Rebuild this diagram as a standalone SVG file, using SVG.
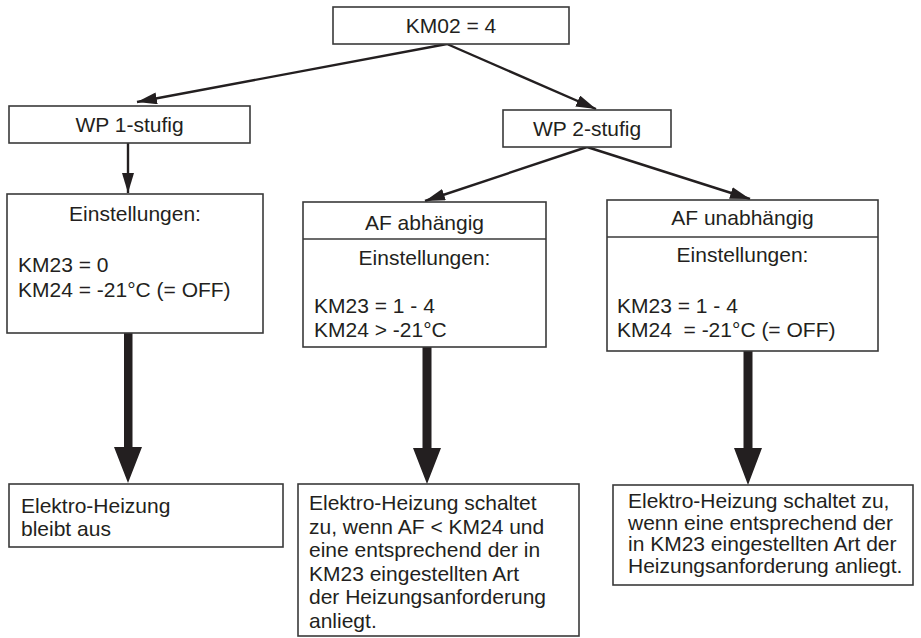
<svg xmlns="http://www.w3.org/2000/svg" width="921" height="638" viewBox="0 0 921 638">
<defs>
<marker id="ah" viewBox="0 0 20 12" refX="20" refY="6" markerWidth="20" markerHeight="12" markerUnits="userSpaceOnUse" orient="auto">
<path d="M0,0 L20,6 L0,12 Z" fill="#231f20"/>
</marker>
</defs>
<style>
.box{fill:#fff;stroke:#3a3a3a;stroke-width:1.6}
.t{font-family:"Liberation Sans",Arial,sans-serif;font-size:21px;fill:#231f20}
.c{text-anchor:middle}
.thin{stroke:#231f20;stroke-width:2.4;fill:none}
.thick{fill:#231f20}
</style>
<g id="connectors">
<line class="thin" x1="447" y1="44" x2="137" y2="102" marker-end="url(#ah)"/>
<line class="thin" x1="447" y1="44" x2="596" y2="109" marker-end="url(#ah)"/>
<line class="thin" x1="128" y1="143" x2="128" y2="193" marker-end="url(#ah)"/>
<line class="thin" x1="587" y1="147" x2="425" y2="201" marker-end="url(#ah)"/>
<line class="thin" x1="587" y1="147" x2="750" y2="199" marker-end="url(#ah)"/>
<path class="thick" d="M124,333 H132.5 V447 H142 L128,483 L114,447 H124 Z"/>
<path class="thick" d="M422.5,347 H431.5 V448 H441 L427,484 L413,448 H422.5 Z"/>
<path class="thick" d="M743.5,351 H752.5 V448 H762 L748,485 L734,448 H743.5 Z"/>
</g>
<g id="n-km02">
<rect class="box" x="333" y="7" width="236" height="37"/>
<text class="t c" x="451" y="33">KM02 = 4</text>
</g>
<g id="n-wp1">
<rect class="box" x="9" y="106" width="241" height="37"/>
<text class="t c" x="129.5" y="132">WP 1-stufig</text>
</g>
<g id="n-wp2">
<rect class="box" x="503" y="110" width="168" height="37"/>
<text class="t c" x="587" y="136">WP 2-stufig</text>
</g>
<g id="n-set1">
<rect class="box" x="7" y="194" width="256" height="139"/>
<text class="t c" x="135" y="221">Einstellungen:</text>
<text class="t" x="18" y="272">KM23 = 0</text>
<text class="t" x="18" y="297">KM24 = -21°C (= OFF)</text>
</g>
<g id="n-afab">
<rect class="box" x="303" y="202" width="243" height="145"/>
<line class="box" x1="303" y1="239" x2="546" y2="239"/>
<text class="t c" x="424.5" y="230">AF abhängig</text>
<text class="t c" x="424.5" y="265">Einstellungen:</text>
<text class="t" x="314" y="313">KM23 = 1 - 4</text>
<text class="t" x="314" y="337">KM24 &gt; -21°C</text>
</g>
<g id="n-afun">
<rect class="box" x="607" y="200" width="271" height="151"/>
<line class="box" x1="607" y1="237" x2="878" y2="237"/>
<text class="t c" x="742.5" y="225">AF unabhängig</text>
<text class="t c" x="742.5" y="262">Einstellungen:</text>
<text class="t" x="617" y="313">KM23 = 1 - 4</text>
<text class="t" x="617" y="337" xml:space="preserve">KM24  = -21°C (= OFF)</text>
</g>
<g id="n-res1">
<rect class="box" x="9" y="484" width="274" height="63"/>
<text class="t" x="21" y="513">Elektro-Heizung</text>
<text class="t" x="21" y="536">bleibt aus</text>
</g>
<g id="n-res2">
<rect class="box" x="298" y="484" width="281" height="152"/>
<text class="t" x="309" y="510">Elektro-Heizung schaltet</text>
<text class="t" x="309" y="533.5">zu, wenn AF &lt; KM24 und</text>
<text class="t" x="309" y="557">eine entsprechend der in</text>
<text class="t" x="309" y="580.5">KM23 eingestellten Art</text>
<text class="t" x="309" y="604">der Heizungsanforderung</text>
<text class="t" x="309" y="627.5">anliegt.</text>
</g>
<g id="n-res3">
<rect class="box" x="613" y="485" width="300" height="100"/>
<text class="t" x="628" y="508">Elektro-Heizung schaltet zu,</text>
<text class="t" x="628" y="529.5">wenn eine entsprechend der</text>
<text class="t" x="628" y="551">in KM23 eingestellten Art der</text>
<text class="t" x="628" y="572.5">Heizungsanforderung anliegt.</text>
</g>
</svg>
